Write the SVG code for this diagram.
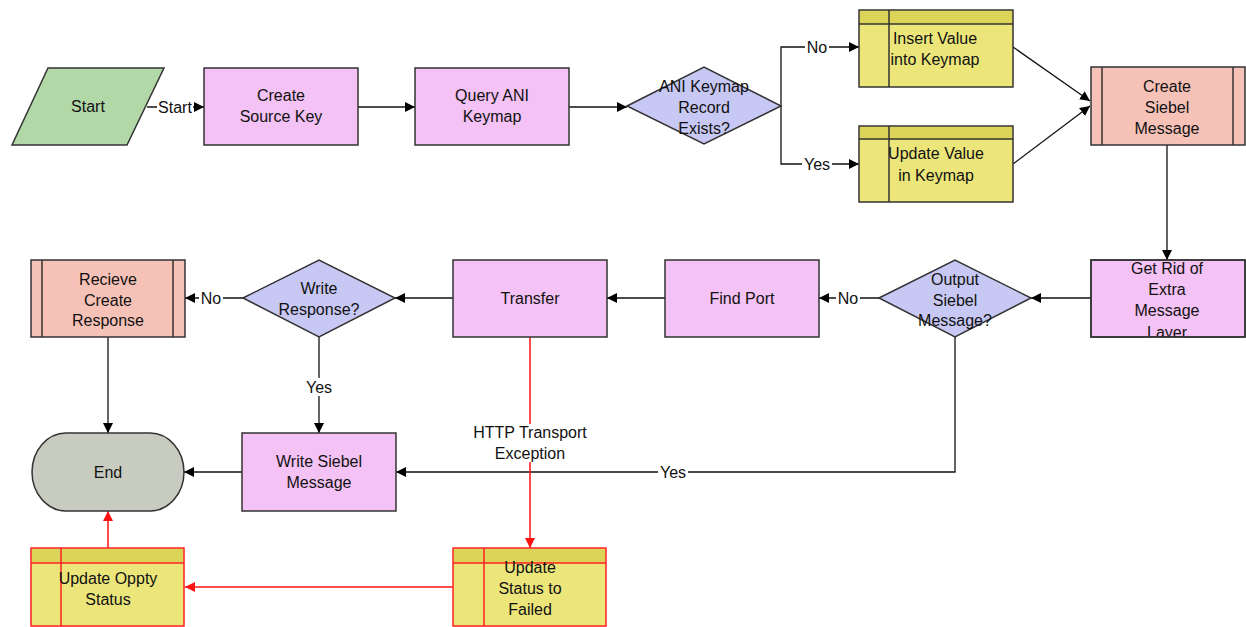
<svg xmlns="http://www.w3.org/2000/svg" width="1246" height="627" viewBox="0 0 1246 627">
<defs>
<marker id="ab" viewBox="0 0 10 10" refX="10" refY="5" markerWidth="10" markerHeight="10" markerUnits="userSpaceOnUse" orient="auto"><path d="M0,0 L10,5 L0,10 Z" fill="#000"/></marker>
<marker id="ar" viewBox="0 0 10 10" refX="10" refY="5" markerWidth="10" markerHeight="10" markerUnits="userSpaceOnUse" orient="auto"><path d="M0,0 L10,5 L0,10 Z" fill="#ff1010"/></marker>
<clipPath id="clipGetRid"><rect x="1091" y="260" width="154" height="77"/></clipPath>
</defs>
<style>
text{font-family:"Liberation Sans",Arial,sans-serif;font-size:16px;fill:#111;text-anchor:middle}
.n{stroke:#333;stroke-width:1.5}
.pink{fill:#f4c2f4}
.dia{fill:#c8c8f4}
.sal{fill:#f6c2b8}
.yel{fill:#ece67a}
.hdr{fill:#dcd458}
.grn{fill:#b2d8a8}
.gry{fill:#c8cbc0}
.red{stroke:#ff2020}
.c{fill:none;stroke:#111;stroke-width:1.3}
.cr{fill:none;stroke:#ff1010;stroke-width:1.5}
.lbl{fill:#fff}
</style>
<rect width="1246" height="627" fill="#fff"/>
<g id="connectors">
<line class="c" x1="147" y1="107" x2="204" y2="107" marker-end="url(#ab)"/>
<line class="c" x1="358" y1="107" x2="415" y2="107" marker-end="url(#ab)"/>
<line class="c" x1="569" y1="107" x2="627" y2="107" marker-end="url(#ab)"/>
<polyline class="c" points="781,106 781,47 859,47" marker-end="url(#ab)"/>
<polyline class="c" points="781,106 781,164 859,164" marker-end="url(#ab)"/>
<line class="c" x1="1013" y1="47" x2="1090" y2="101" marker-end="url(#ab)"/>
<line class="c" x1="1013" y1="164" x2="1090" y2="106" marker-end="url(#ab)"/>
<line class="c" x1="1167" y1="145" x2="1167" y2="260" marker-end="url(#ab)"/>
<line class="c" x1="1091" y1="298" x2="1031" y2="298" marker-end="url(#ab)"/>
<line class="c" x1="879" y1="298" x2="819" y2="298" marker-end="url(#ab)"/>
<line class="c" x1="665" y1="298" x2="607" y2="298" marker-end="url(#ab)"/>
<line class="c" x1="453" y1="298" x2="395" y2="298" marker-end="url(#ab)"/>
<line class="c" x1="243" y1="298" x2="185" y2="298" marker-end="url(#ab)"/>
<line class="c" x1="319" y1="337" x2="319" y2="433" marker-end="url(#ab)"/>
<line class="c" x1="108" y1="337" x2="108" y2="433" marker-end="url(#ab)"/>
<polyline class="c" points="955,337 955,472 396,472" marker-end="url(#ab)"/>
<line class="c" x1="242" y1="472" x2="184" y2="472" marker-end="url(#ab)"/>
<line class="cr" x1="530" y1="337" x2="530" y2="548" marker-end="url(#ar)"/>
<line class="cr" x1="453" y1="587" x2="185" y2="587" marker-end="url(#ar)"/>
<line class="cr" x1="108" y1="548" x2="108" y2="511" marker-end="url(#ar)"/>
<rect class="lbl" x="157" y="98" width="36" height="18"/>
<text x="175" y="113">Start</text>
<rect class="lbl" x="805" y="38" width="24" height="18"/>
<text x="817" y="53">No</text>
<rect class="lbl" x="802" y="155" width="30" height="18"/>
<text x="817" y="170">Yes</text>
<rect class="lbl" x="836" y="289" width="24" height="18"/>
<text x="848" y="304">No</text>
<rect class="lbl" x="199" y="289" width="24" height="18"/>
<text x="211" y="304">No</text>
<rect class="lbl" x="304" y="378" width="30" height="18"/>
<text x="319" y="393">Yes</text>
<rect class="lbl" x="658" y="463" width="30" height="18"/>
<text x="673" y="478">Yes</text>
<rect class="lbl" x="470" y="424" width="120" height="38"/>
<text x="530" y="438">HTTP Transport</text>
<text x="530" y="459">Exception</text>
</g>
<g id="start">
<polygon class="n grn" points="48,68 164,68 127,145 12,145"/>
<text x="88" y="112">Start</text>
</g>
<g id="create-source-key">
<rect class="n pink" x="204" y="68" width="154" height="77"/>
<text x="281" y="101">Create</text>
<text x="281" y="122">Source Key</text>
</g>
<g id="query-ani-keymap">
<rect class="n pink" x="415" y="68" width="154" height="77"/>
<text x="492" y="101">Query ANI</text>
<text x="492" y="122">Keymap</text>
</g>
<g id="ani-keymap-record-exists">
<polygon class="n dia" points="627,106 704,67 781,106 704,144"/>
<text x="704" y="92">ANI Keymap</text>
<text x="704" y="113">Record</text>
<text x="704" y="134">Exists?</text>
</g>
<g id="insert-value-into-keymap">
<rect class="n yel" x="859" y="10" width="154" height="77"/>
<rect class="hdr" x="860" y="11" width="152" height="13"/>
<line class="n" x1="859" y1="24" x2="1013" y2="24"/>
<line class="n" x1="889" y1="10" x2="889" y2="87"/>
<text x="935" y="44">Insert Value</text>
<text x="935" y="65">into Keymap</text>
</g>
<g id="update-value-in-keymap">
<rect class="n yel" x="859" y="126" width="154" height="76"/>
<rect class="hdr" x="860" y="127" width="152" height="12"/>
<line class="n" x1="859" y1="139" x2="1013" y2="139"/>
<line class="n" x1="889" y1="126" x2="889" y2="202"/>
<text x="936" y="159">Update Value</text>
<text x="936" y="181">in Keymap</text>
</g>
<g id="create-siebel-message">
<rect class="n sal" x="1091" y="67" width="154" height="78"/>
<line class="n" x1="1102" y1="67" x2="1102" y2="145"/>
<line class="n" x1="1233" y1="67" x2="1233" y2="145"/>
<text x="1167" y="92">Create</text>
<text x="1167" y="113">Siebel</text>
<text x="1167" y="134">Message</text>
</g>
<g id="get-rid-of-extra-message-layer">
<rect class="n pink" x="1091" y="260" width="154" height="77"/>
<g clip-path="url(#clipGetRid)">
<text x="1167" y="274">Get Rid of</text>
<text x="1167" y="295">Extra</text>
<text x="1167" y="316">Message</text>
<text x="1167" y="338">Layer</text>
</g>
<rect x="1091" y="260" width="154" height="77" fill="none" stroke="#333" stroke-width="1.5"/>
</g>
<g id="output-siebel-message">
<polygon class="n dia" points="879,298 955,260 1031,298 955,337"/>
<text x="955" y="285">Output</text>
<text x="955" y="306">Siebel</text>
<text x="955" y="326">Message?</text>
</g>
<g id="find-port">
<rect class="n pink" x="665" y="260" width="154" height="77"/>
<text x="742" y="304">Find Port</text>
</g>
<g id="transfer">
<rect class="n pink" x="453" y="260" width="154" height="77"/>
<text x="530" y="304">Transfer</text>
</g>
<g id="write-response">
<polygon class="n dia" points="243,298 319,260 395,298 319,337"/>
<text x="319" y="294">Write</text>
<text x="319" y="315">Response?</text>
</g>
<g id="recieve-create-response">
<rect class="n sal" x="31" y="260" width="154" height="77"/>
<line class="n" x1="42" y1="260" x2="42" y2="337"/>
<line class="n" x1="173" y1="260" x2="173" y2="337"/>
<text x="108" y="285">Recieve</text>
<text x="108" y="306">Create</text>
<text x="108" y="326">Response</text>
</g>
<g id="end">
<rect class="n gry" x="32" y="433" width="152" height="78" rx="34" ry="39"/>
<text x="108" y="478">End</text>
</g>
<g id="write-siebel-message">
<rect class="n pink" x="242" y="433" width="154" height="78"/>
<text x="319" y="467">Write Siebel</text>
<text x="319" y="488">Message</text>
</g>
<g id="update-status-to-failed">
<rect class="n yel red" x="453" y="548" width="153" height="78"/>
<rect class="hdr" x="454" y="549" width="151" height="14"/>
<line class="n red" x1="453" y1="563" x2="606" y2="563"/>
<line class="n red" x1="484" y1="548" x2="484" y2="626"/>
<text x="530" y="573">Update</text>
<text x="530" y="594">Status to</text>
<text x="530" y="615">Failed</text>
</g>
<g id="update-oppty-status">
<rect class="n yel red" x="31" y="548" width="153" height="78"/>
<rect class="hdr" x="32" y="549" width="151" height="14"/>
<line class="n red" x1="31" y1="563" x2="184" y2="563"/>
<line class="n red" x1="61" y1="548" x2="61" y2="626"/>
<text x="108" y="584">Update Oppty</text>
<text x="108" y="605">Status</text>
</g>
</svg>
